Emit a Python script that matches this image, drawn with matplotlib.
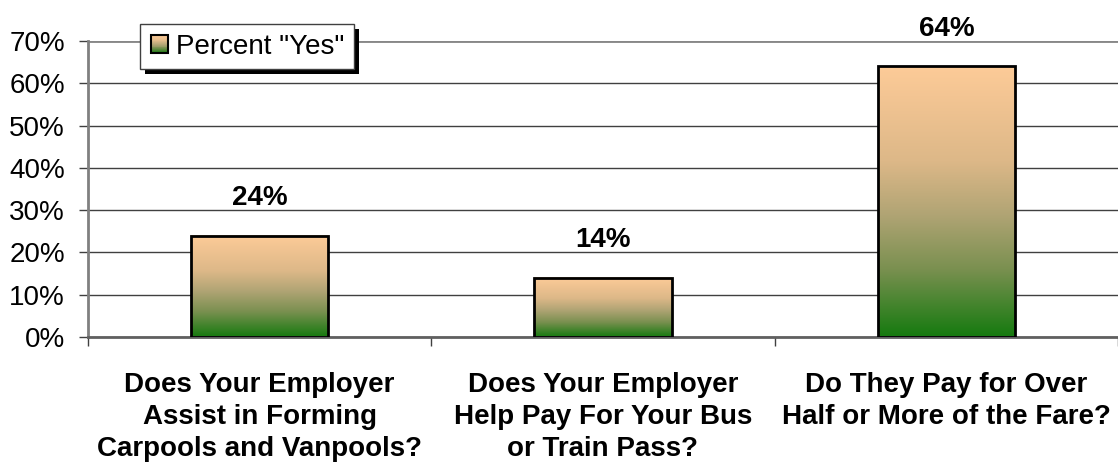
import numpy as np
import matplotlib.pyplot as plt
from matplotlib.colors import LinearSegmentedColormap
from matplotlib.patches import Rectangle
from matplotlib.legend_handler import HandlerBase

plt.rcParams['font.family'] = ['Liberation Sans', 'DejaVu Sans']

categories = ["Does Your Employer\nAssist in Forming\nCarpools and Vanpools?",
              "Does Your Employer\nHelp Pay For Your Bus\nor Train Pass?",
              "Do They Pay for Over\nHalf or More of the Fare?"]
percent_yes = [24, 14, 64]
y_ticks = [0, 10, 20, 30, 40, 50, 60, 70]

# peach at the top fading to green at the bottom of each bar
fade = LinearSegmentedColormap.from_list(
    "fade", [(0.0, "#157a0f"), (0.25, "#7a9050"), (0.45, "#b0a474"),
             (0.65, "#ddb888"), (1.0, "#fdcb98")])
grad = np.linspace(0, 1, 256).reshape(-1, 1)


class GradientHandler(HandlerBase):
    def create_artists(self, legend, orig_handle, xd, yd, w, h, fontsize, trans):
        s = 12.5
        x0 = xd + 1
        y0 = yd + h / 2 - s / 2
        arts = []
        n = 20
        for i in range(n):
            r = Rectangle((x0, y0 + s * i / n), s, s / n + 0.2,
                          facecolor=fade((i + 0.5) / n), edgecolor='none',
                          transform=trans)
            arts.append(r)
        arts.append(Rectangle((x0, y0), s, s, facecolor='none',
                              edgecolor='black', lw=1.5, transform=trans))
        return arts


fig = plt.figure(figsize=(11.18, 4.66), dpi=100)
ax = fig.add_axes([0.0787, 0.2768, 0.9213, 0.6352])

x = np.arange(len(categories))
width = 0.40
bars = ax.bar(x, percent_yes, width, facecolor='none', edgecolor='black',
              linewidth=2, zorder=3)
for b in bars:
    x0, y0 = b.get_x(), b.get_y()
    ax.imshow(grad, cmap=fade, origin='lower', aspect='auto',
              extent=(x0, x0 + b.get_width(), y0, y0 + b.get_height()),
              zorder=2)
    ax.annotate(f"{b.get_height():.0f}%", (x0 + b.get_width() / 2, b.get_height()),
                xytext=(0, 22), textcoords='offset points', ha='center',
                va='baseline', fontsize=20, fontweight='bold')

ax.set_xlim(-0.5, 2.5)
ax.set_ylim(0, 70)
ax.set_yticks(y_ticks)
ax.set_yticklabels([f"{v}%" for v in y_ticks], fontsize=20)
ax.set_xticks(x)
ax.set_xticklabels(categories, fontsize=20, fontweight='bold', linespacing=1.3)
ax.set_xticks([-0.5, 0.5, 1.5, 2.5], minor=True)
ax.tick_params(axis='x', which='major', length=0, pad=25)
ax.tick_params(axis='x', which='minor', length=6.5, width=1, color='#404040')
ax.tick_params(axis='y', length=6.5, width=1, color='#404040', pad=10)

ax.grid(axis='y', color='#404040', linewidth=1, zorder=0)
ax.set_axisbelow(True)
for side in ['top', 'right']:
    ax.spines[side].set_visible(False)
ax.spines['left'].set_color('#808080')
ax.spines['left'].set_linewidth(2)
ax.spines['bottom'].set_color('#606060')
ax.spines['bottom'].set_linewidth(2)
ax.axhline(70, color='#888888', linewidth=2, zorder=1)

leg = ax.legend([bars[0]], ['Percent "Yes"'], handler_map={type(bars[0]): GradientHandler()},
                loc='upper left', bbox_to_anchor=(140 / 1118, 1 - 24 / 466),
                bbox_transform=fig.transFigure, borderaxespad=0, fancybox=False,
                fontsize=20, handlelength=0.75, handletextpad=0.2,
                borderpad=0.35, framealpha=1)
leg.get_frame().set_edgecolor('#404040')
leg.get_frame().set_linewidth(1)
leg.set_zorder(6)

# solid black drop shadow behind the legend box
fig.canvas.draw()
bb = leg.get_window_extent()
ax.add_patch(Rectangle((bb.x0 + 5, bb.y0 - 5), bb.width, bb.height,
                       facecolor='black', edgecolor='none', transform=None,
                       clip_on=False, zorder=5.5))

fig.savefig("out.png", dpi=100)
